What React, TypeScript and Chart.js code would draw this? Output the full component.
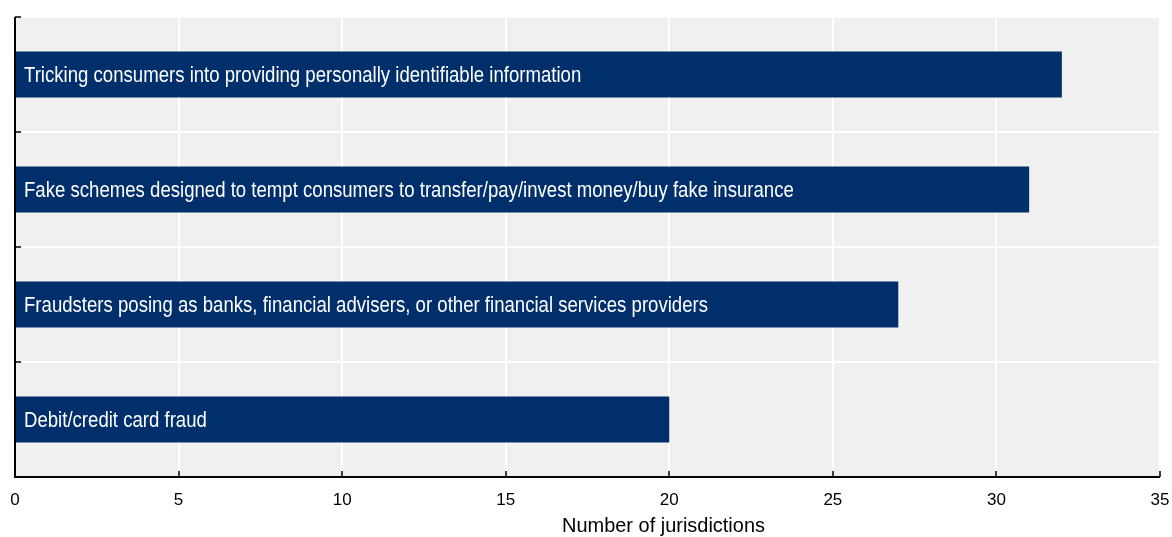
import React, { useEffect, useRef } from "react";
import { Chart, registerables } from "chart.js";

Chart.register(...registerables);

const categories: string[] = [
  "Tricking consumers into providing personally identifiable information",
  "Fake schemes designed to tempt consumers to transfer/pay/invest money/buy fake insurance",
  "Fraudsters posing as banks, financial advisers, or other financial services providers",
  "Debit/credit card fraud",
];
const jurisdictions: number[] = [32, 31, 27, 20];
const xTicks: number[] = [0, 5, 10, 15, 20, 25, 30, 35];
const xTitle = "Number of jurisdictions";

const FONT = "'Liberation Sans', Arial, sans-serif";
const BAR_COLOR = "#002F6C";
const PLOT_BG = "#F0F0F0";

const decorPlugin = {
  id: "decor",
  beforeDraw(chart: any) {
    const { ctx, chartArea } = chart;
    ctx.save();
    ctx.fillStyle = PLOT_BG;
    ctx.fillRect(chartArea.left, chartArea.top, chartArea.right - chartArea.left, chartArea.bottom - chartArea.top);
    ctx.restore();
  },
  afterDraw(chart: any) {
    const { ctx, chartArea } = chart;
    const x = chart.scales.x;
    const y = chart.scales.y;
    ctx.save();
    ctx.strokeStyle = "#000";
    ctx.lineWidth = 2;
    ctx.beginPath();
    ctx.moveTo(chartArea.left, chartArea.top);
    ctx.lineTo(chartArea.left, chartArea.bottom);
    ctx.lineTo(chartArea.right, chartArea.bottom);
    ctx.stroke();
    ctx.lineWidth = 1.5;
    ctx.beginPath();
    for (let i = 0; i <= categories.length; i++) {
      const py = Math.round(y.getPixelForValue(i - 0.5));
      ctx.moveTo(chartArea.left, py);
      ctx.lineTo(chartArea.left + 6, py);
    }
    xTicks.forEach((v) => {
      const px = Math.round(x.getPixelForValue(v));
      ctx.moveTo(px, chartArea.bottom);
      ctx.lineTo(px, chartArea.bottom - 6);
    });
    ctx.stroke();
    // bar labels (condensed look via horizontal scaling)
    const meta = chart.getDatasetMeta(0);
    ctx.fillStyle = "#FFFFFF";
    ctx.font = `22px ${FONT}`;
    ctx.textAlign = "left";
    ctx.textBaseline = "middle";
    meta.data.forEach((bar: any, i: number) => {
      ctx.save();
      ctx.translate(chartArea.left + 9, bar.y + 1);
      ctx.scale(0.845, 1);
      ctx.fillText(categories[i], 0, 0);
      ctx.restore();
    });
    // x-axis title (offset to the right of the plot centre, as in the reference)
    ctx.fillStyle = "#000";
    ctx.font = `21px ${FONT}`;
    ctx.textAlign = "center";
    ctx.textBaseline = "alphabetic";
    ctx.save();
    ctx.translate((chartArea.left + chartArea.right) / 2 + 76, chart.height - 5);
    ctx.scale(0.95, 1);
    ctx.fillText(xTitle, 0, 0);
    ctx.restore();
    ctx.restore();
  },
};

export default function App() {
  const canvasRef = useRef<HTMLCanvasElement | null>(null);

  useEffect(() => {
    if (!canvasRef.current) return;
    const chart = new Chart(canvasRef.current, {
      type: "bar",
      data: {
        labels: categories,
        datasets: [
          {
            data: jurisdictions,
            backgroundColor: BAR_COLOR,
            borderWidth: 0,
            barPercentage: 0.4,
            categoryPercentage: 1.0,
          },
        ],
      },
      options: {
        indexAxis: "y",
        animation: false,
        responsive: true,
        maintainAspectRatio: false,
        layout: { padding: { top: 17, right: 12, left: 0, bottom: 0 } },
        plugins: {
          legend: { display: false },
          tooltip: { enabled: false },
        },
        scales: {
          x: {
            min: 0,
            max: 35,
            afterBuildTicks: (scale: any) => {
              scale.ticks = xTicks.map((v) => ({ value: v }));
            },
            afterFit: (scale: any) => {
              scale.height = 60;
              scale.paddingLeft = 0;
              scale.paddingRight = 0;
            },
            grid: {
              color: "#FFFFFF",
              lineWidth: 2,
              drawTicks: false,
            },
            border: { display: false },
            ticks: {
              color: "#000",
              font: { family: FONT, size: 17 },
              padding: 13,
              maxRotation: 0,
            },
            title: { display: false },
          },
          y: {
            afterFit: (scale: any) => {
              scale.width = 15;
            },
            grid: {
              color: "#FFFFFF",
              lineWidth: 2,
              drawTicks: false,
              offset: true,
            },
            border: { display: false },
            ticks: { display: false },
          },
        },
      },
      plugins: [decorPlugin],
    });
    return () => chart.destroy();
  }, []);

  return (
    <div style={{ position: "absolute", left: 0, top: 0, width: 1172, height: 537 }}>
      <canvas ref={canvasRef} />
    </div>
  );
}
